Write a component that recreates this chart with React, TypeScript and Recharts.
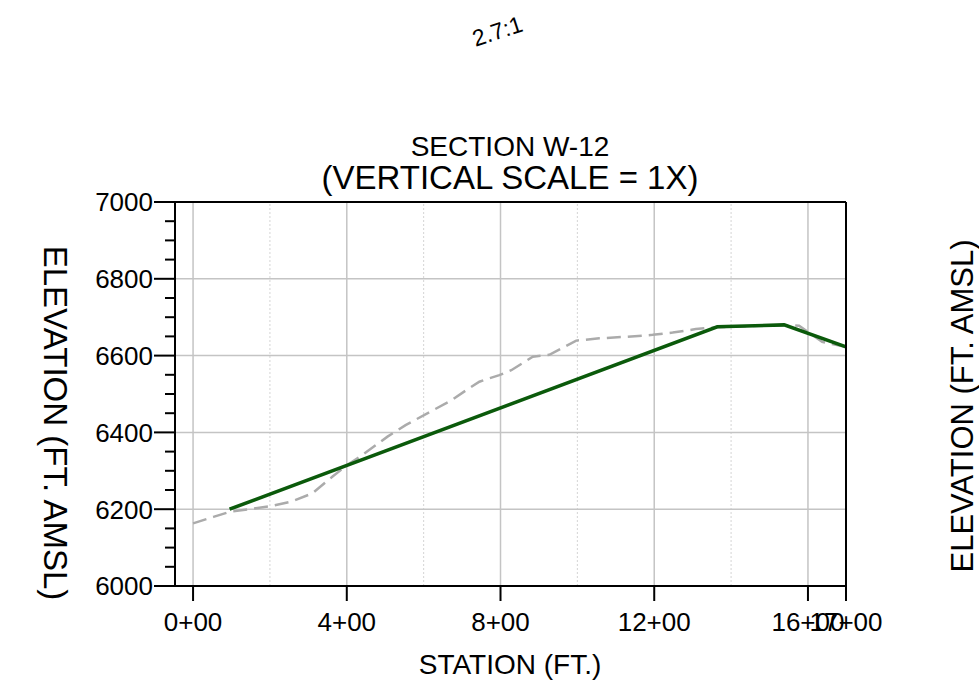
import React from 'react';
import { LineChart, Line, XAxis, YAxis, ReferenceLine } from 'recharts';

// existing ground profile (dashed grey)
const groundStation = [0, 53, 95, 202, 256, 310, 363, 401, 435, 506, 553, 625, 673, 711, 745, 771, 797, 828, 884, 927, 971, 997, 1057, 1126, 1196, 1248, 1308, 1364, 1455, 1533, 1577, 1611, 1637, 1663, 1699];
const groundElev = [6163, 6180, 6193, 6208, 6220, 6241, 6285, 6315, 6337, 6389, 6419, 6458, 6484, 6510, 6532, 6541, 6549, 6562, 6597, 6602, 6625, 6639, 6645, 6649, 6654, 6660, 6669, 6674, 6677, 6680, 6678, 6654, 6636, 6630, 6623];

// design grade (green)
const designStation = [95, 1364, 1538, 1699];
const designElev = [6200, 6675, 6680, 6623];

const xTicks = [0, 400, 800, 1200, 1600, 1699];
const xTickLabels = ['0+00', '4+00', '8+00', '12+00', '16+00', '17+00'];
const majorX = [0, 400, 800, 1200, 1600];
const minorX = [200, 600, 1000, 1400];
const majorY = [6200, 6400, 6600, 6800];
const yTicks = [6000, 6050, 6100, 6150, 6200, 6250, 6300, 6350, 6400, 6450, 6500, 6550, 6600, 6650, 6700, 6750, 6800, 6850, 6900, 6950, 7000];

const ground = groundStation.map((s, i) => ({ station: s, elev: groundElev[i] }));
const design = designStation.map((s, i) => ({ station: s, elev: designElev[i] }));

const FONT = '"Liberation Sans", Arial, sans-serif';

const LeftTick = (props: any) => {
  const { x, y, payload } = props;
  const major = payload.value % 200 === 0;
  return (
    <g>
      <line x1={x - (major ? 21 : 10)} x2={x} y1={y} y2={y} stroke="#000" strokeWidth={2} />
      {major && (
        <text x={x - 22} y={y} dy="0.36em" textAnchor="end" fontSize={26} fill="#000" fontFamily={FONT}>
          {payload.value}
        </text>
      )}
    </g>
  );
};

const RightTick = (props: any) => {
  const { x, y, payload } = props;
  const major = payload.value % 200 === 0;
  return (
    <g>
      <line x1={x} x2={x + (major ? 20 : 10)} y1={y} y2={y} stroke="#000" strokeWidth={2} />
      {major && (
        <text x={x + 21} y={y} dy="0.36em" textAnchor="start" fontSize={26} fill="#000" fontFamily={FONT}>
          {payload.value}
        </text>
      )}
    </g>
  );
};

export default function App() {
  return (
    <div style={{ position: 'absolute', left: 0, top: 0, width: 979, height: 690, background: '#fff', fontFamily: FONT }}>
      <LineChart
        width={979}
        height={690}
        margin={{ top: 202, right: 53, bottom: 44, left: 95 }}
        style={{ position: 'absolute', left: 0, top: 0 }}
      >
        <XAxis
          type="number"
          dataKey="station"
          domain={[-47, 1699]}
          ticks={xTicks}
          interval={0}
          allowDataOverflow
          height={60}
          tickSize={15}
          tickMargin={12}
          tickFormatter={(v: number) => xTickLabels[xTicks.indexOf(v)]}
          tick={{ fill: '#000', fontSize: 26, fontFamily: FONT }}
          tickLine={{ stroke: '#000', strokeWidth: 2 }}
          axisLine={{ stroke: '#000', strokeWidth: 2 }}
        />
        <YAxis
          yAxisId="left"
          type="number"
          domain={[6000, 7000]}
          ticks={yTicks}
          interval={0}
          width={80}
          tickSize={0}
          tickMargin={0}
          tickLine={false}
          tick={<LeftTick />}
          axisLine={{ stroke: '#000', strokeWidth: 2 }}
        />
        <YAxis
          yAxisId="right"
          orientation="right"
          type="number"
          domain={[6000, 7000]}
          ticks={yTicks}
          interval={0}
          width={80}
          tickSize={0}
          tickMargin={0}
          tickLine={false}
          tick={<RightTick />}
          axisLine={{ stroke: '#000', strokeWidth: 2 }}
        />
        {minorX.map((v) => (
          <ReferenceLine key={'mx' + v} yAxisId="left" x={v} stroke="#d4d4d4" strokeWidth={1} strokeDasharray="2 2" />
        ))}
        {majorX.map((v) => (
          <ReferenceLine key={'x' + v} yAxisId="left" x={v} stroke="#c4c4c4" strokeWidth={1.5} />
        ))}
        {majorY.map((v) => (
          <ReferenceLine key={'y' + v} yAxisId="left" y={v} stroke="#c4c4c4" strokeWidth={1.5} />
        ))}
        <ReferenceLine yAxisId="left" y={7000} stroke="#000" strokeWidth={2} />
        <Line
          yAxisId="left"
          data={ground}
          dataKey="elev"
          type="linear"
          stroke="#ababab"
          strokeWidth={2.5}
          strokeDasharray="14 7"
          dot={false}
          isAnimationActive={false}
        />
        <Line
          yAxisId="left"
          data={design}
          dataKey="elev"
          type="linear"
          stroke="#0b5a0b"
          strokeWidth={3.5}
          dot={false}
          isAnimationActive={false}
        />
      </LineChart>
      <svg width={979} height={690} style={{ position: 'absolute', left: 0, top: 0, pointerEvents: 'none' }}>
        <g fontFamily={FONT} fill="#000">
          <text x={498} y={33} fontSize={23} textAnchor="middle" dominantBaseline="middle" transform="rotate(-18 498 33)">
            2.7:1
          </text>
          <text x={510} y={156} fontSize={28} textAnchor="middle">SECTION W-12</text>
          <text x={510} y={189} fontSize={33} textAnchor="middle">(VERTICAL SCALE = 1X)</text>
          <text x={510} y={674} fontSize={28} textAnchor="middle">STATION (FT.)</text>
          <text x={0} y={0} fontSize={33} textAnchor="middle" transform="translate(44 423) rotate(90)">
            ELEVATION (FT. AMSL)
          </text>
          <text x={0} y={0} fontSize={31} textAnchor="middle" transform="translate(973 406) rotate(-90)">
            ELEVATION (FT. AMSL)
          </text>
        </g>
      </svg>
    </div>
  );
}
